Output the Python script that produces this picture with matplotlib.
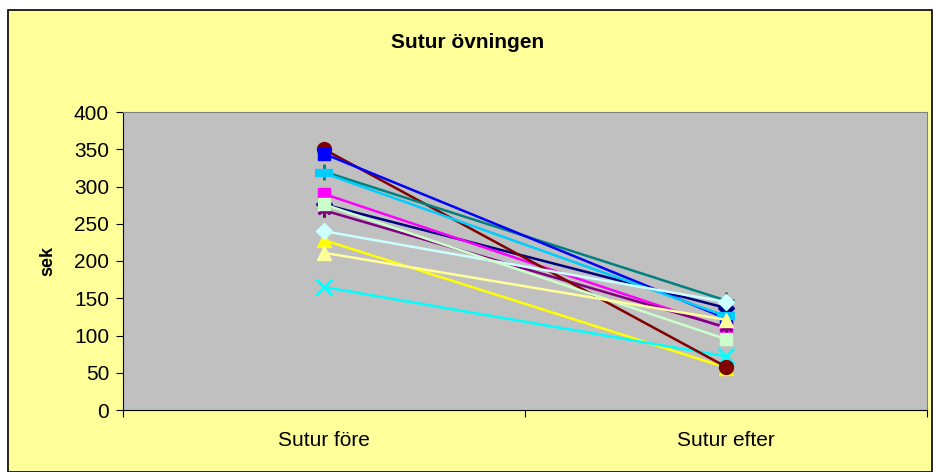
import matplotlib.pyplot as plt
from matplotlib import patches

plt.rcParams["font.family"] = ["Liberation Sans", "DejaVu Sans"]

categories = ["Sutur före", "Sutur efter"]

# one series per participant: (before, after)
s1 = [276, 137]
s2 = [290, 110]
s3 = [228, 57]
s4 = [165, 72]
s5 = [268, 111]
s6 = [350, 58]
s7 = [320, 147]
s8 = [344, 123]
s9 = [318, 126]
s10 = [240, 145]
s11 = [276, 95]
s12 = [211, 121]

series = [s1, s2, s3, s4, s5, s6, s7, s8, s9, s10, s11, s12]
colors = ["#000080", "#FF00FF", "#FFFF00", "#00FFFF", "#800080", "#800000",
          "#008080", "#0000FF", "#00CCFF", "#CCFFFF", "#CCFFCC", "#FFFF99"]
markers = ["D", "s", "^", "x", (6, 2, 0), "o", "+", "s", "_", "D", "s", "^"]
msizes = [8, 8, 10, 11, 10, 10, 12, 8, 13, 8, 9, 10]
mews = [1, 1, 1, 2, 2, 1, 2, 1, 6, 1, 1, 1]

fig = plt.figure(figsize=(9.36, 4.72), dpi=100)
fig.patch.set_facecolor("white")
fig.patches.append(patches.Rectangle(
    (8 / 936, 0.0), 924 / 936, 462 / 472, transform=fig.transFigure,
    facecolor="#FFFF99", edgecolor="black", linewidth=1.2, zorder=-1))

ax = fig.add_axes([123 / 936, 62 / 472, 804 / 936, 298 / 472])
ax.set_facecolor("#C0C0C0")

x = list(range(len(categories)))
for vals, c, m, ms, mw in zip(series, colors, markers, msizes, mews):
    ax.plot(x, vals, color=c, linewidth=1.8, marker=m, markersize=ms,
            markerfacecolor=c, markeredgecolor=c, markeredgewidth=mw,
            clip_on=False)

ax.set_xlim(-0.5, 1.5)
ax.set_ylim(0, 400)
ax.set_yticks(range(0, 401, 50))
ax.set_xticks([-0.5, 0.5, 1.5])
ax.set_xticklabels([])
ax.set_xticks(x, minor=True)
ax.set_xticklabels(categories, minor=True)
ax.tick_params(axis="x", which="minor", length=0, pad=15, labelsize=15)
ax.tick_params(axis="x", which="major", direction="out", length=5)
ax.tick_params(axis="y", direction="out", length=5, labelsize=15, pad=5)

for side in ["top", "right"]:
    ax.spines[side].set_color("#808080")
for side in ["left", "bottom"]:
    ax.spines[side].set_color("black")

ax.set_ylabel("sek", fontsize=13, fontweight="bold", labelpad=13)
fig.text(0.5, 1 - 42 / 472, "Sutur övningen", ha="center", va="center",
         fontsize=15, fontweight="bold")

fig.savefig("out.png", dpi=100)
